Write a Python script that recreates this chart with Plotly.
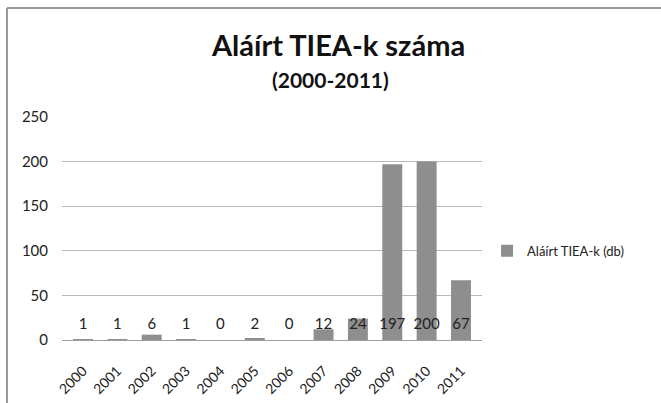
import plotly.graph_objects as go

years = ["2000", "2001", "2002", "2003", "2004", "2005", "2006", "2007", "2008", "2009", "2010", "2011"]
values = [1, 1, 6, 1, 0, 2, 0, 12, 24, 197, 200, 67]
series_name = "Aláírt TIEA-k (db)"
y_ticks = [0, 50, 100, 150, 200, 250]
label_level = 16

FONT = "Lato, 'Open Sans', sans-serif"

fig = go.Figure()
fig.add_trace(go.Bar(
    x=years, y=values, name=series_name,
    marker=dict(color="#8e8e8e", line=dict(width=0)),
    showlegend=True,
))
fig.add_trace(go.Scatter(
    x=years, y=[label_level] * len(years), mode="text",
    text=[str(v) for v in values], textposition="middle center",
    textfont=dict(size=15, color="#222222", family=FONT),
    showlegend=False, hoverinfo="skip",
))

fig.add_annotation(x=0.657, y=1.325, xref="paper", yref="paper", text="<b>Aláírt TIEA-k száma</b>",
                   showarrow=False, font=dict(size=29, color="#111111", family=FONT), yanchor="middle")
fig.add_annotation(x=0.640, y=1.168, xref="paper", yref="paper", text="<b>(2000-2011)</b>",
                   showarrow=False, font=dict(size=21, color="#111111", family=FONT), yanchor="middle")

# outer frame (top and left edges)
fig.add_shape(type="line", xref="paper", yref="paper", x0=-0.131, x1=1.5, y0=1.489, y1=1.489,
              line=dict(color="#999999", width=2))
fig.add_shape(type="line", xref="paper", yref="paper", x0=-0.131, x1=-0.131, y0=1.489, y1=-0.3,
              line=dict(color="#999999", width=2))

fig.update_layout(
    width=661, height=403,
    margin=dict(l=62, r=179, t=117, b=63, autoexpand=False),
    paper_bgcolor="white", plot_bgcolor="white",
    bargap=0.42,
    font=dict(family=FONT, size=14, color="#222222"),
    legend=dict(x=1.012, y=0.40, xanchor="left", yanchor="middle",
                font=dict(size=13, color="#222222", family=FONT)),
    xaxis=dict(type="category", tickangle=-45, showgrid=False, showline=False, automargin=False,
               ticks="", tickfont=dict(size=14, family=FONT), ticklabelstandoff=19),
    yaxis=dict(range=[0, 250], tickvals=y_ticks, showgrid=True, gridcolor="#b8b8b8", gridwidth=1,
               zeroline=True, zerolinecolor="#a0a0a0", zerolinewidth=1, automargin=False,
               ticks="", tickfont=dict(size=15, family=FONT), ticklabelstandoff=13),
)

fig.write_html("out.html", config={"displayModeBar": False},
               post_script="document.body.style.margin='0px';")
